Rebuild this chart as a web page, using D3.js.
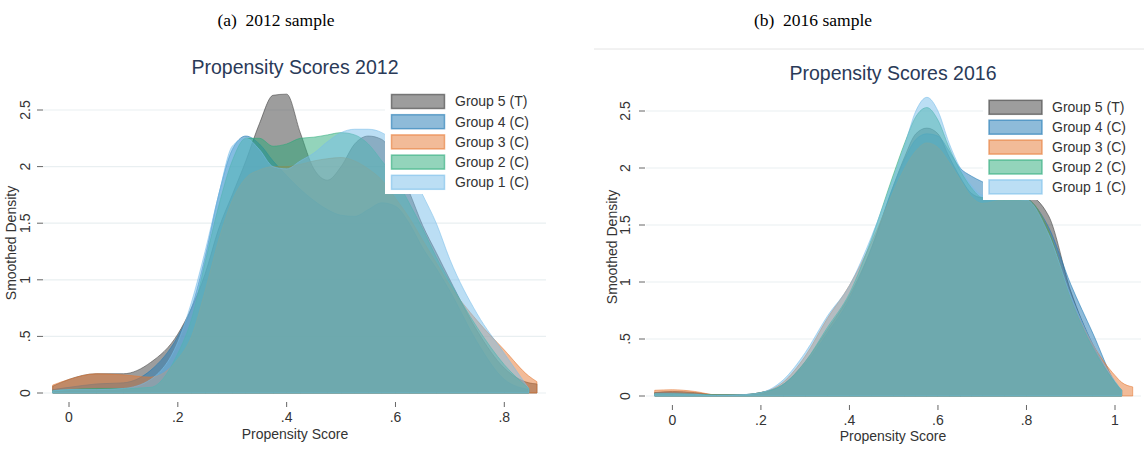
<!DOCTYPE html>
<html>
<head>
<meta charset="utf-8">
<script src="https://cdn.jsdelivr.net/npm/d3@7"></script>
<style>
  html, body { margin: 0; padding: 0; background: #fff; }
  svg { display: block; }
  text { font-family: "Liberation Sans", Arial, sans-serif; }
</style>
</head>
<body>
<svg id="fig" width="1144" height="450"></svg>
<script>
// ---- data ----------------------------------------------------------------
const groupNames = ["Group 5 (T)", "Group 4 (C)", "Group 3 (C)", "Group 2 (C)", "Group 1 (C)"];

// 2012 sample: smoothed density evaluated at these propensity scores
const score2012 = [-0.03, 0, 0.05, 0.1, 0.15, 0.2, 0.225, 0.25, 0.275, 0.3, 0.325, 0.35, 0.375, 0.4, 0.425,
                   0.45, 0.475, 0.5, 0.525, 0.55, 0.575, 0.6, 0.625, 0.65, 0.675, 0.7, 0.75, 0.8, 0.845, 0.86];
const g5_2012 = [0.06, 0.12, 0.17, 0.17, 0.27, 0.52, 0.75, 1.05, 1.45, 1.75, 2.05, 2.38, 2.63, 2.64, 2.3,
                 1.98, 1.88, 2.0, 2.2, 2.27, 2.24, 2.05, 1.78, 1.48, 1.24, 1.0, 0.55, 0.22, 0.09, 0.08];
const g4_2012 = [0.03, 0.05, 0.08, 0.09, 0.2, 0.5, 0.75, 1.2, 1.75, 2.15, 2.27, 2.2, 2.05, 1.92, 1.8,
                 1.7, 1.62, 1.57, 1.56, 1.62, 1.68, 1.65, 1.5, 1.28, 1.1, 0.9, 0.45, 0.12, 0.03, null];
const g3_2012 = [0.07, 0.12, 0.17, 0.16, 0.14, 0.3, 0.5, 0.9, 1.35, 1.7, 1.9, 1.97, 2.0, 2.0, 2.02,
                 2.05, 2.07, 2.08, 2.05, 1.98, 1.88, 1.72, 1.55, 1.35, 1.15, 0.95, 0.64, 0.38, 0.15, 0.1];
const g2_2012 = [0.02, 0.03, 0.04, 0.04, 0.05, 0.35, 0.65, 1.15, 1.65, 2.05, 2.25, 2.25, 2.18, 2.2, 2.25,
                 2.26, 2.28, 2.3, 2.28, 2.2, 2.05, 1.9, 1.68, 1.45, 1.2, 0.98, 0.58, 0.25, 0.04, null];
const g1_2012 = [0.02, 0.03, 0.03, 0.04, 0.12, 0.45, 0.8, 1.25, 1.75, 2.18, 2.25, 2.15, 2.0, 1.98, 2.05,
                 2.12, 2.22, 2.3, 2.33, 2.33, 2.3, 2.2, 2.0, 1.75, 1.5, 1.18, 0.7, 0.35, 0.04, null];

// 2016 sample
const score2016 = [-0.04, 0, 0.05, 0.1, 0.15, 0.2, 0.25, 0.3, 0.35, 0.4, 0.45, 0.5, 0.525, 0.55, 0.575,
                   0.6, 0.625, 0.65, 0.675, 0.7, 0.75, 0.8, 0.85, 0.9, 0.95, 1.0, 1.015, 1.04];
const g5_2016 = [0.03, 0.04, 0.03, 0.01, 0.01, 0.03, 0.1, 0.3, 0.58, 0.88, 1.3, 1.85, 2.1, 2.3, 2.35,
                 2.3, 2.1, 1.92, 1.78, 1.74, 1.75, 1.76, 1.58, 0.92, 0.45, 0.12, 0.05, null];
const g4_2016 = [0.03, 0.03, 0.02, 0.01, 0.01, 0.03, 0.1, 0.28, 0.55, 0.85, 1.3, 1.85, 2.08, 2.25, 2.3,
                 2.28, 2.15, 2.0, 1.93, 1.88, 1.8, 1.74, 1.48, 0.98, 0.55, 0.12, 0.04, null];
const g3_2016 = [0.05, 0.055, 0.04, 0.01, 0.01, 0.03, 0.12, 0.35, 0.68, 0.97, 1.35, 1.8, 2.0, 2.15, 2.22,
                 2.18, 2.05, 1.9, 1.75, 1.69, 1.72, 1.72, 1.45, 0.85, 0.45, 0.18, 0.12, 0.08];
const g2_2016 = [0.02, 0.02, 0.015, 0.01, 0.01, 0.03, 0.1, 0.3, 0.6, 0.9, 1.38, 1.95, 2.22, 2.45, 2.53,
                 2.42, 2.18, 1.98, 1.83, 1.74, 1.72, 1.72, 1.45, 0.85, 0.42, 0.12, 0.05, null];
const g1_2016 = [0.02, 0.02, 0.015, 0.005, 0.01, 0.03, 0.14, 0.38, 0.7, 0.97, 1.4, 1.92, 2.2, 2.5, 2.62,
                 2.5, 2.22, 2.0, 1.85, 1.76, 1.73, 1.72, 1.42, 0.88, 0.45, 0.13, 0.05, null];

// axis ticks
const xTicks2012 = [0, 0.2, 0.4, 0.6, 0.8];
const xTickLabels2012 = ["0", ".2", ".4", ".6", ".8"];
const xTicks2016 = [0, 0.2, 0.4, 0.6, 0.8, 1];
const xTickLabels2016 = ["0", ".2", ".4", ".6", ".8", "1"];
const yTicks = [0, 0.5, 1, 1.5, 2, 2.5];
const yTickLabels = ["0", ".5", "1", "1.5", "2", "2.5"];

// ---- styling ----------------------------------------------------------------
const groupColors = ["#3c3c3c", "#1e78b4", "#e67832", "#28aa78", "#78bee9"];
const fillOpacity = 0.5;

const svg = d3.select("#fig");

function drawPanel(p) {
  const g = svg.append("g");
  const x = d3.scaleLinear().domain(p.xDomain).range(p.xRange);
  const y = d3.scaleLinear().domain([0, 2.5]).range(p.yRange);

  // horizontal grid
  g.append("g").selectAll("line").data(p.yTicks).join("line")
    .attr("x1", p.gridX[0]).attr("x2", p.gridX[1])
    .attr("y1", d => y(d)).attr("y2", d => y(d))
    .attr("stroke", "#e9eff1").attr("stroke-width", 1.2);

  // density areas, treated group first
  const area = d3.area()
    .defined(d => d[1] != null)
    .x(d => x(d[0]))
    .y0(y(0))
    .y1(d => y(d[1]))
    .curve(d3.curveMonotoneX);

  p.series.forEach((vals, i) => {
    const pts = p.scores.map((s, k) => [s, vals[k]]);
    g.append("path")
      .datum(pts)
      .attr("d", area)
      .attr("fill", groupColors[i])
      .attr("fill-opacity", fillOpacity)
      .attr("stroke", groupColors[i])
      .attr("stroke-opacity", 0.55)
      .attr("stroke-width", 1);
  });

  // y axis: ticks and vertical labels
  const yAx = g.append("g");
  p.yTicks.forEach((t, i) => {
    yAx.append("line")
      .attr("x1", p.yTickX[0]).attr("x2", p.yTickX[1])
      .attr("y1", y(t)).attr("y2", y(t))
      .attr("stroke", "#666").attr("stroke-width", 1);
    yAx.append("text")
      .attr("transform", `translate(${p.yLabelX},${y(t)}) rotate(-90)`)
      .attr("text-anchor", "middle").attr("dy", "0.35em")
      .attr("font-size", 14).attr("fill", "#333")
      .text(p.yTickLabels[i]);
  });

  // x axis: ticks and labels
  const xAx = g.append("g");
  p.xTicks.forEach((t, i) => {
    xAx.append("line")
      .attr("x1", x(t)).attr("x2", x(t))
      .attr("y1", p.xTickY[0]).attr("y2", p.xTickY[1])
      .attr("stroke", "#666").attr("stroke-width", 1);
    xAx.append("text")
      .attr("x", x(t)).attr("y", p.xLabelY)
      .attr("text-anchor", "middle").attr("dy", "0.35em")
      .attr("font-size", 14).attr("fill", "#333")
      .text(p.xTickLabels[i]);
  });

  // titles
  g.append("text")
    .attr("x", p.titleX).attr("y", p.titleY)
    .attr("text-anchor", "middle").attr("dy", "0.35em")
    .attr("font-size", 19.5).attr("fill", "#2a3a58")
    .text(p.title);
  g.append("text")
    .attr("x", p.titleX).attr("y", p.xTitleY)
    .attr("text-anchor", "middle").attr("dy", "0.35em")
    .attr("font-size", 14).attr("fill", "#333")
    .text("Propensity Score");
  g.append("text")
    .attr("transform", `translate(${p.yTitleX},${p.yTitleY}) rotate(-90)`)
    .attr("text-anchor", "middle").attr("dy", "0.35em")
    .attr("font-size", 14).attr("fill", "#333")
    .text("Smoothed Density");

  // legend
  const lg = g.append("g");
  lg.append("rect")
    .attr("x", p.legend.x).attr("y", p.legend.y)
    .attr("width", p.legend.w).attr("height", p.legend.h)
    .attr("fill", "#fff");
  groupNames.forEach((name, i) => {
    const ry = p.legend.row0 + i * p.legend.step;
    lg.append("rect")
      .attr("x", p.legend.swX).attr("y", ry - 7)
      .attr("width", 53).attr("height", 14)
      .attr("fill", groupColors[i]).attr("fill-opacity", fillOpacity)
      .attr("stroke", groupColors[i]).attr("stroke-opacity", 0.6)
      .attr("stroke-width", 1.5);
    lg.append("text")
      .attr("x", p.legend.txX).attr("y", ry)
      .attr("dy", "0.35em").attr("font-size", 14).attr("fill", "#333")
      .text(name);
  });
}

// panel captions
svg.append("text").attr("x", 276).attr("y", 20).attr("text-anchor", "middle").attr("dy", "0.35em")
  .style("font-family", "'Liberation Serif', 'Times New Roman', serif").attr("font-size", 17.5)
  .attr("fill", "#000").attr("xml:space", "preserve").text("(a)  2012 sample");
svg.append("text").attr("x", 813).attr("y", 20).attr("text-anchor", "middle").attr("dy", "0.35em")
  .style("font-family", "'Liberation Serif', 'Times New Roman', serif").attr("font-size", 17.5)
  .attr("fill", "#000").attr("xml:space", "preserve").text("(b)  2016 sample");

// faint frame line above the 2016 graph
svg.append("line").attr("x1", 594).attr("x2", 1144).attr("y1", 49).attr("y2", 49)
  .attr("stroke", "#e4e4e4").attr("stroke-width", 1);

drawPanel({
  title: "Propensity Scores 2012",
  scores: score2012,
  series: [g5_2012, g4_2012, g3_2012, g2_2012, g1_2012],
  xDomain: [0, 0.8], xRange: [69, 504.3], yRange: [393, 110],
  xTicks: xTicks2012, xTickLabels: xTickLabels2012,
  yTicks: yTicks, yTickLabels: yTickLabels,
  gridX: [43, 546], yTickX: [37, 43], yLabelX: 25,
  xTickY: [402, 407], xLabelY: 417,
  titleX: 295, titleY: 67, xTitleY: 434, yTitleX: 11, yTitleY: 243,
  legend: { x: 385, y: 90, w: 161, h: 104, swX: 391.5, txX: 455, row0: 101.5, step: 20.2 }
});

drawPanel({
  title: "Propensity Scores 2016",
  scores: score2016,
  series: [g5_2016, g4_2016, g3_2016, g2_2016, g1_2016],
  xDomain: [0, 1], xRange: [672.4, 1115], yRange: [396, 111],
  xTicks: xTicks2016, xTickLabels: xTickLabels2016,
  yTicks: yTicks, yTickLabels: yTickLabels,
  gridX: [646, 1141], yTickX: [639, 645], yLabelX: 625,
  xTickY: [405, 410], xLabelY: 420,
  titleX: 893, titleY: 73, xTitleY: 436, yTitleX: 612, yTitleY: 247,
  legend: { x: 983, y: 97, w: 161, h: 103, swX: 989, txX: 1052, row0: 107.3, step: 19.9 }
});
</script>
</body>
</html>
